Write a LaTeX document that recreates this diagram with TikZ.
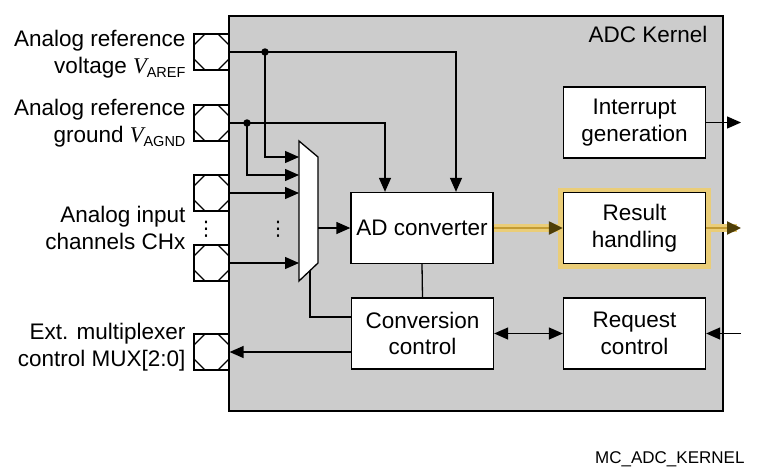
\documentclass[tikz,border=0pt]{standalone}
\usepackage{fontspec}
\setmainfont{Liberation Sans}
\newfontfamily\seriffont{Liberation Serif}
\newfontfamily\dejavu{DejaVu Sans}
\usetikzlibrary{arrows.meta,calc}
\definecolor{kgray}{RGB}{204,204,204}
\definecolor{hlyellow}{RGB}{234,205,120}
\definecolor{hlgold}{RGB}{196,156,52}
\definecolor{hldark}{RGB}{78,62,8}
\newcommand{\subtxt}[1]{\raisebox{-4.5pt}{\fontsize{14.5}{14.5}\selectfont #1}}
\begin{document}
\begin{tikzpicture}[x=1pt,y=-1pt,
  every node/.style={font=\fontsize{22.5}{26.5}\selectfont},
  blk/.style={draw=black, line width=1.3pt, fill=white, minimum width=142pt, minimum height=71pt, inner sep=0pt, align=center},
  pinbox/.style={draw, line width=1.2pt, fill=white, minimum width=35pt, minimum height=36pt, inner sep=0pt,
    path picture={\draw[line width=1.1pt, shift={(path picture bounding box.center)}]
      (-17.5pt,7pt) -- (-6.5pt,18pt) -- (6.5pt,18pt) -- (17.5pt,7pt) -- (17.5pt,-7pt) -- (6.5pt,-18pt) -- (-6.5pt,-18pt) -- (-17.5pt,-7pt) -- cycle;}},
  conn/.style={line width=1.3pt},
  arr/.style={conn, -{Triangle[length=14pt,width=12pt]}},
  dblarr/.style={conn, {Triangle[length=14pt,width=12pt]}-{Triangle[length=14pt,width=12pt]}},
  dot/.style={circle, fill, inner sep=0pt, minimum size=7.5pt},
  lbl/.style={anchor=east, align=right},
  hlband/.style={line width=7.5pt, hlyellow},
  hlarrow/.style={line width=2.2pt, hlgold, -{Triangle[length=14pt,width=13pt,color=hldark]}}]
\useasboundingbox (0,0) rectangle (763,472);

% kernel
\node[draw, line width=1.3pt, fill=kgray, minimum width=494pt, minimum height=395pt, inner sep=0pt] (kernel) at (476,213.5) {};
\node[anchor=base east] (title) at (711,42) {ADC Kernel};

% pins
\node[pinbox] (p1) at (211.5,52) {};
\node[pinbox] (p2) at (211.5,123) {};
\node[pinbox] (p3) at (211.5,193) {};
\node[pinbox] (p4) at (211.5,263) {};
\node[pinbox] (p5) at (211.5,352) {};

% left labels
\node[lbl] (l1) at (189,54) {Analog reference\\voltage {\seriffont\itshape V}\subtxt{AREF}};
\node[lbl] (l2) at (189,123) {Analog reference\\ground {\seriffont\itshape V}\subtxt{AGND}};
\node[lbl] (l3) at (189,228) {Analog input\\channels CHx};
\node[lbl] (l4) at (189,347) {Ext. multiplexer\\control MUX[2:0]};

% vertical dots
\node[font=\dejavu\fontsize{20}{20}\selectfont] (vd1) at (206,229) {⋮};
\node[font=\dejavu\fontsize{20}{20}\selectfont] (vd2) at (278,229) {⋮};

% multiplexer
\draw[line width=1.3pt, fill=white] (299,141) -- (318,157) -- (318,263) -- (299,281) -- cycle;
\coordinate (mi1) at (299,157);
\coordinate (mi2) at (299,175);
\coordinate (mi3) at (299,193);
\coordinate (mi4) at (299,263);
\coordinate (mo) at (318,228);
\coordinate (mb) at (310,270.6);

% blocks
\node[blk] (ad) at (422,228) {AD converter};
\node[blk] (cc) at (422.5,333.5) {Conversion\\control};
\node[blk] (ig) at (634.5,122.5) {Interrupt\\generation};
\node[draw=hlyellow, line width=5pt, minimum width=148pt, minimum height=76pt, inner sep=0pt] (rhhl) at (634.5,228) {};
\node[blk] (rh) at (634.5,228) {Result\\handling};
\node[blk] (rc) at (634.5,333.5) {Request\\control};

% connectors
\node[dot] (d1) at (265,52) {};
\node[dot] (d2) at (247,123) {};
\draw[arr] (p1.east) -| ([xshift=34pt]ad.north);
\draw[arr] (d1.center) |- (mi1);
\draw[arr] (p2.east) -| ([xshift=-37pt]ad.north);
\draw[arr] (d2.center) |- (mi2);
\draw[arr] (p3.east) -- (mi3);
\draw[arr] (p4.east) -- (mi4);
\draw[arr] (mo) -- (ad.west);
\draw[conn] (ad.south) -- (cc.north);
\draw[conn] (mb) |- ([yshift=16.5pt]cc.west);
\draw[arr] ([yshift=-18.5pt]cc.west) -- (p5.east);
\draw[dblarr] (cc.east) -- (rc.west);
\coordinate (igout) at (741,122.5);
\draw[arr] (ig.east) -- (igout);
\coordinate (rcin) at (741,333.5);
\draw[arr] (rcin) -- (rc.east);

% result path (highlighted)
\coordinate (rhout) at (741,228);
\draw[hlband, shorten >=4pt] (ad.east) -- (rh.west);
\draw[hlarrow] (ad.east) -- (rh.west);
\draw[hlband, shorten >=4pt] (rh.east) -- (rhout);
\draw[hlarrow] (rh.east) -- (rhout);

% figure tag
\node[anchor=base east, font=\fontsize{17}{20}\selectfont] (tag) at (748,463) {MC\_ADC\_KERNEL};
\end{tikzpicture}
\end{document}
